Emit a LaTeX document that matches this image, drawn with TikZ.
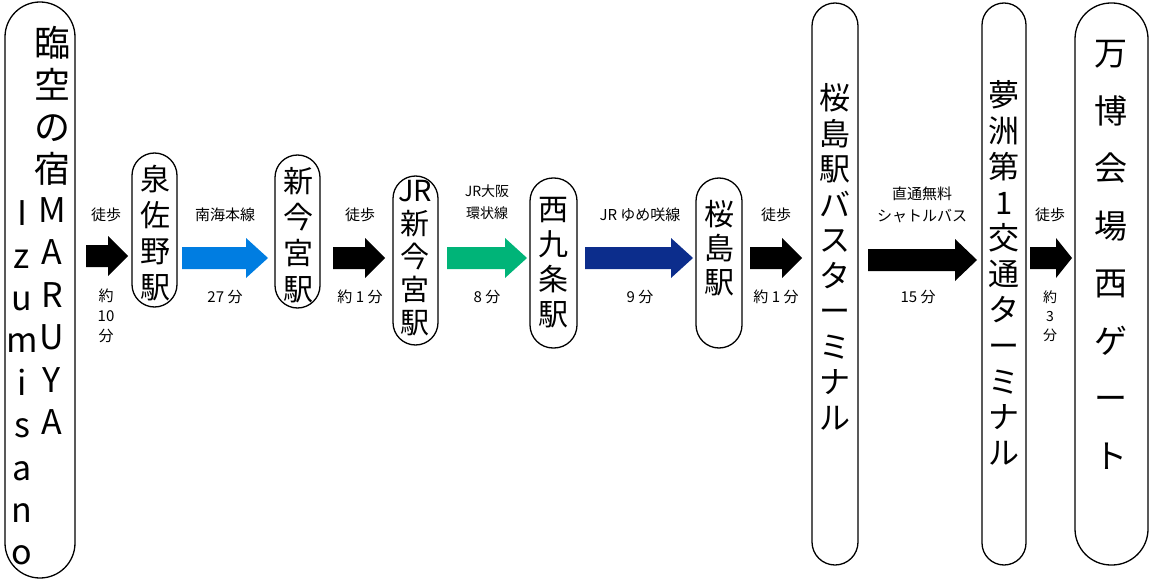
\documentclass[tikz,border=0pt]{standalone}
\usepackage{fontspec}
\setmainfont{Noto Sans CJK JP}
\newcommand{\vtxt}[2]{\fontsize{#1}{#2}\selectfont}
\tikzset{
  stbox/.style={draw=black, line width=1.3pt},
  vt/.style={align=center, inner sep=0pt, text=black},
  lbl/.style={inner sep=0pt, font=\fontsize{15}{18}\selectfont, align=center},
}
\newcommand{\blockarrow}[7]{% x1 x2 y color bodyhalf headhalf headlen
  \fill[#4] (#1,#3-#5) -- (#2-#7,#3-#5) -- (#2-#7,#3-#6) -- (#2,#3) -- (#2-#7,#3+#6) -- (#2-#7,#3+#5) -- (#1,#3+#5) -- cycle;}
\definecolor{blueA}{RGB}{0,125,225}
\definecolor{greenA}{RGB}{0,180,120}
\definecolor{navyA}{RGB}{12,45,140}
\begin{document}
\begin{tikzpicture}[x=1pt,y=-1pt]
\useasboundingbox (0,0) rectangle (1153,580);
% boxes
\draw[stbox, rounded corners=35pt] (5,2) rectangle (75,578);
\draw[stbox, rounded corners=22.5pt] (132,153) rectangle (177,307);
\draw[stbox, rounded corners=22.5pt] (275,155) rectangle (320,308);
\draw[stbox, rounded corners=22.5pt] (393,176) rectangle (438,345);
\draw[stbox, rounded corners=23pt] (530,178) rectangle (577,348);
\draw[stbox, rounded corners=23pt] (696,178) rectangle (742,348);
\draw[stbox, rounded corners=23pt] (812,3) rectangle (858,565);
\draw[stbox, rounded corners=22pt] (982,3) rectangle (1026,565);
\draw[stbox, rounded corners=36pt] (1075,3) rectangle (1148,565);
% box texts
\node[vt, font=\vtxt{36}{42}] (t1a) at (52,106) {臨\\空\\の\\宿};
\node[vt, font=\vtxt{34}{42.5}] (t1b) at (52,316) {M\\A\\R\\U\\Y\\A};
\node[vt, font=\vtxt{34}{42.4}] (t1c) at (22,383) {I\\z\\u\\m\\i\\s\\a\\n\\o};
\node[vt, font=\vtxt{30}{36}] (t2) at (155,233) {泉\\佐\\野\\駅};
\node[vt, font=\vtxt{30}{36}] (t3) at (298,235) {新\\今\\宮\\駅};
\node[vt, font=\vtxt{29}{33}] (t4) at (415,258) {JR\\新\\今\\宮\\駅};
\node[vt, font=\vtxt{30}{35}] (t5) at (553,263) {西\\九\\条\\駅};
\node[vt, font=\vtxt{30}{34}] (t6) at (719,248) {桜\\島\\駅};
\node[vt, font=\vtxt{31}{35.5}] (t7) at (835,257) {桜\\島\\駅\\バ\\ス\\タ\\ー\\ミ\\ナ\\ル};
\node[vt, font=\vtxt{31}{35.8}] (t8) at (1004,273) {夢\\洲\\第\\1\\交\\通\\タ\\ー\\ミ\\ナ\\ル};
\node[vt, font=\vtxt{33}{57.5}] (t9) at (1111,255) {万\\博\\会\\場\\西\\ゲ\\ー\\ト};
% arrows
\blockarrow{86}{128}{256}{black}{11}{20}{20}
\blockarrow{182}{268}{258}{blueA}{11}{20}{22}
\blockarrow{333}{385}{258}{black}{11}{20}{20}
\blockarrow{447}{527}{258}{greenA}{11}{20}{22}
\blockarrow{585}{693}{258}{navyA}{11}{20}{22}
\blockarrow{750}{802}{258}{black}{11}{20}{20}
\blockarrow{868}{977}{260}{black}{11}{21}{22}
\blockarrow{1030}{1072}{258}{black}{11}{20}{16}
% labels
\node[lbl] (l1a) at (106,215) {徒歩};
\node[lbl, font=\fontsize{15}{20}\selectfont] (l1b) at (106,316) {約\\10\\分};
\node[lbl] (l2a) at (225,215) {南海本線};
\node[lbl] (l2b) at (225,297) {27 分};
\node[lbl] (l3a) at (360,215) {徒歩};
\node[lbl] (l3b) at (360,297) {約 1 分};
\node[lbl, font=\fontsize{14}{22}\selectfont] (l4a) at (487,202) {JR大阪\\環状線};
\node[lbl] (l4b) at (487,297) {8 分};
\node[lbl] (l5a) at (640,215) {JR ゆめ咲線};
\node[lbl] (l5b) at (640,297) {9 分};
\node[lbl] (l6a) at (776,215) {徒歩};
\node[lbl] (l6b) at (776,297) {約 1 分};
\node[lbl, font=\fontsize{15}{22}\selectfont] (l7a) at (922,205) {直通無料\\シャトルバス};
\node[lbl] (l7b) at (918,297) {15 分};
\node[lbl] (l8a) at (1050,215) {徒歩};
\node[lbl, font=\fontsize{14}{19}\selectfont] (l8b) at (1050,316) {約\\3\\分};
\end{tikzpicture}
\end{document}
